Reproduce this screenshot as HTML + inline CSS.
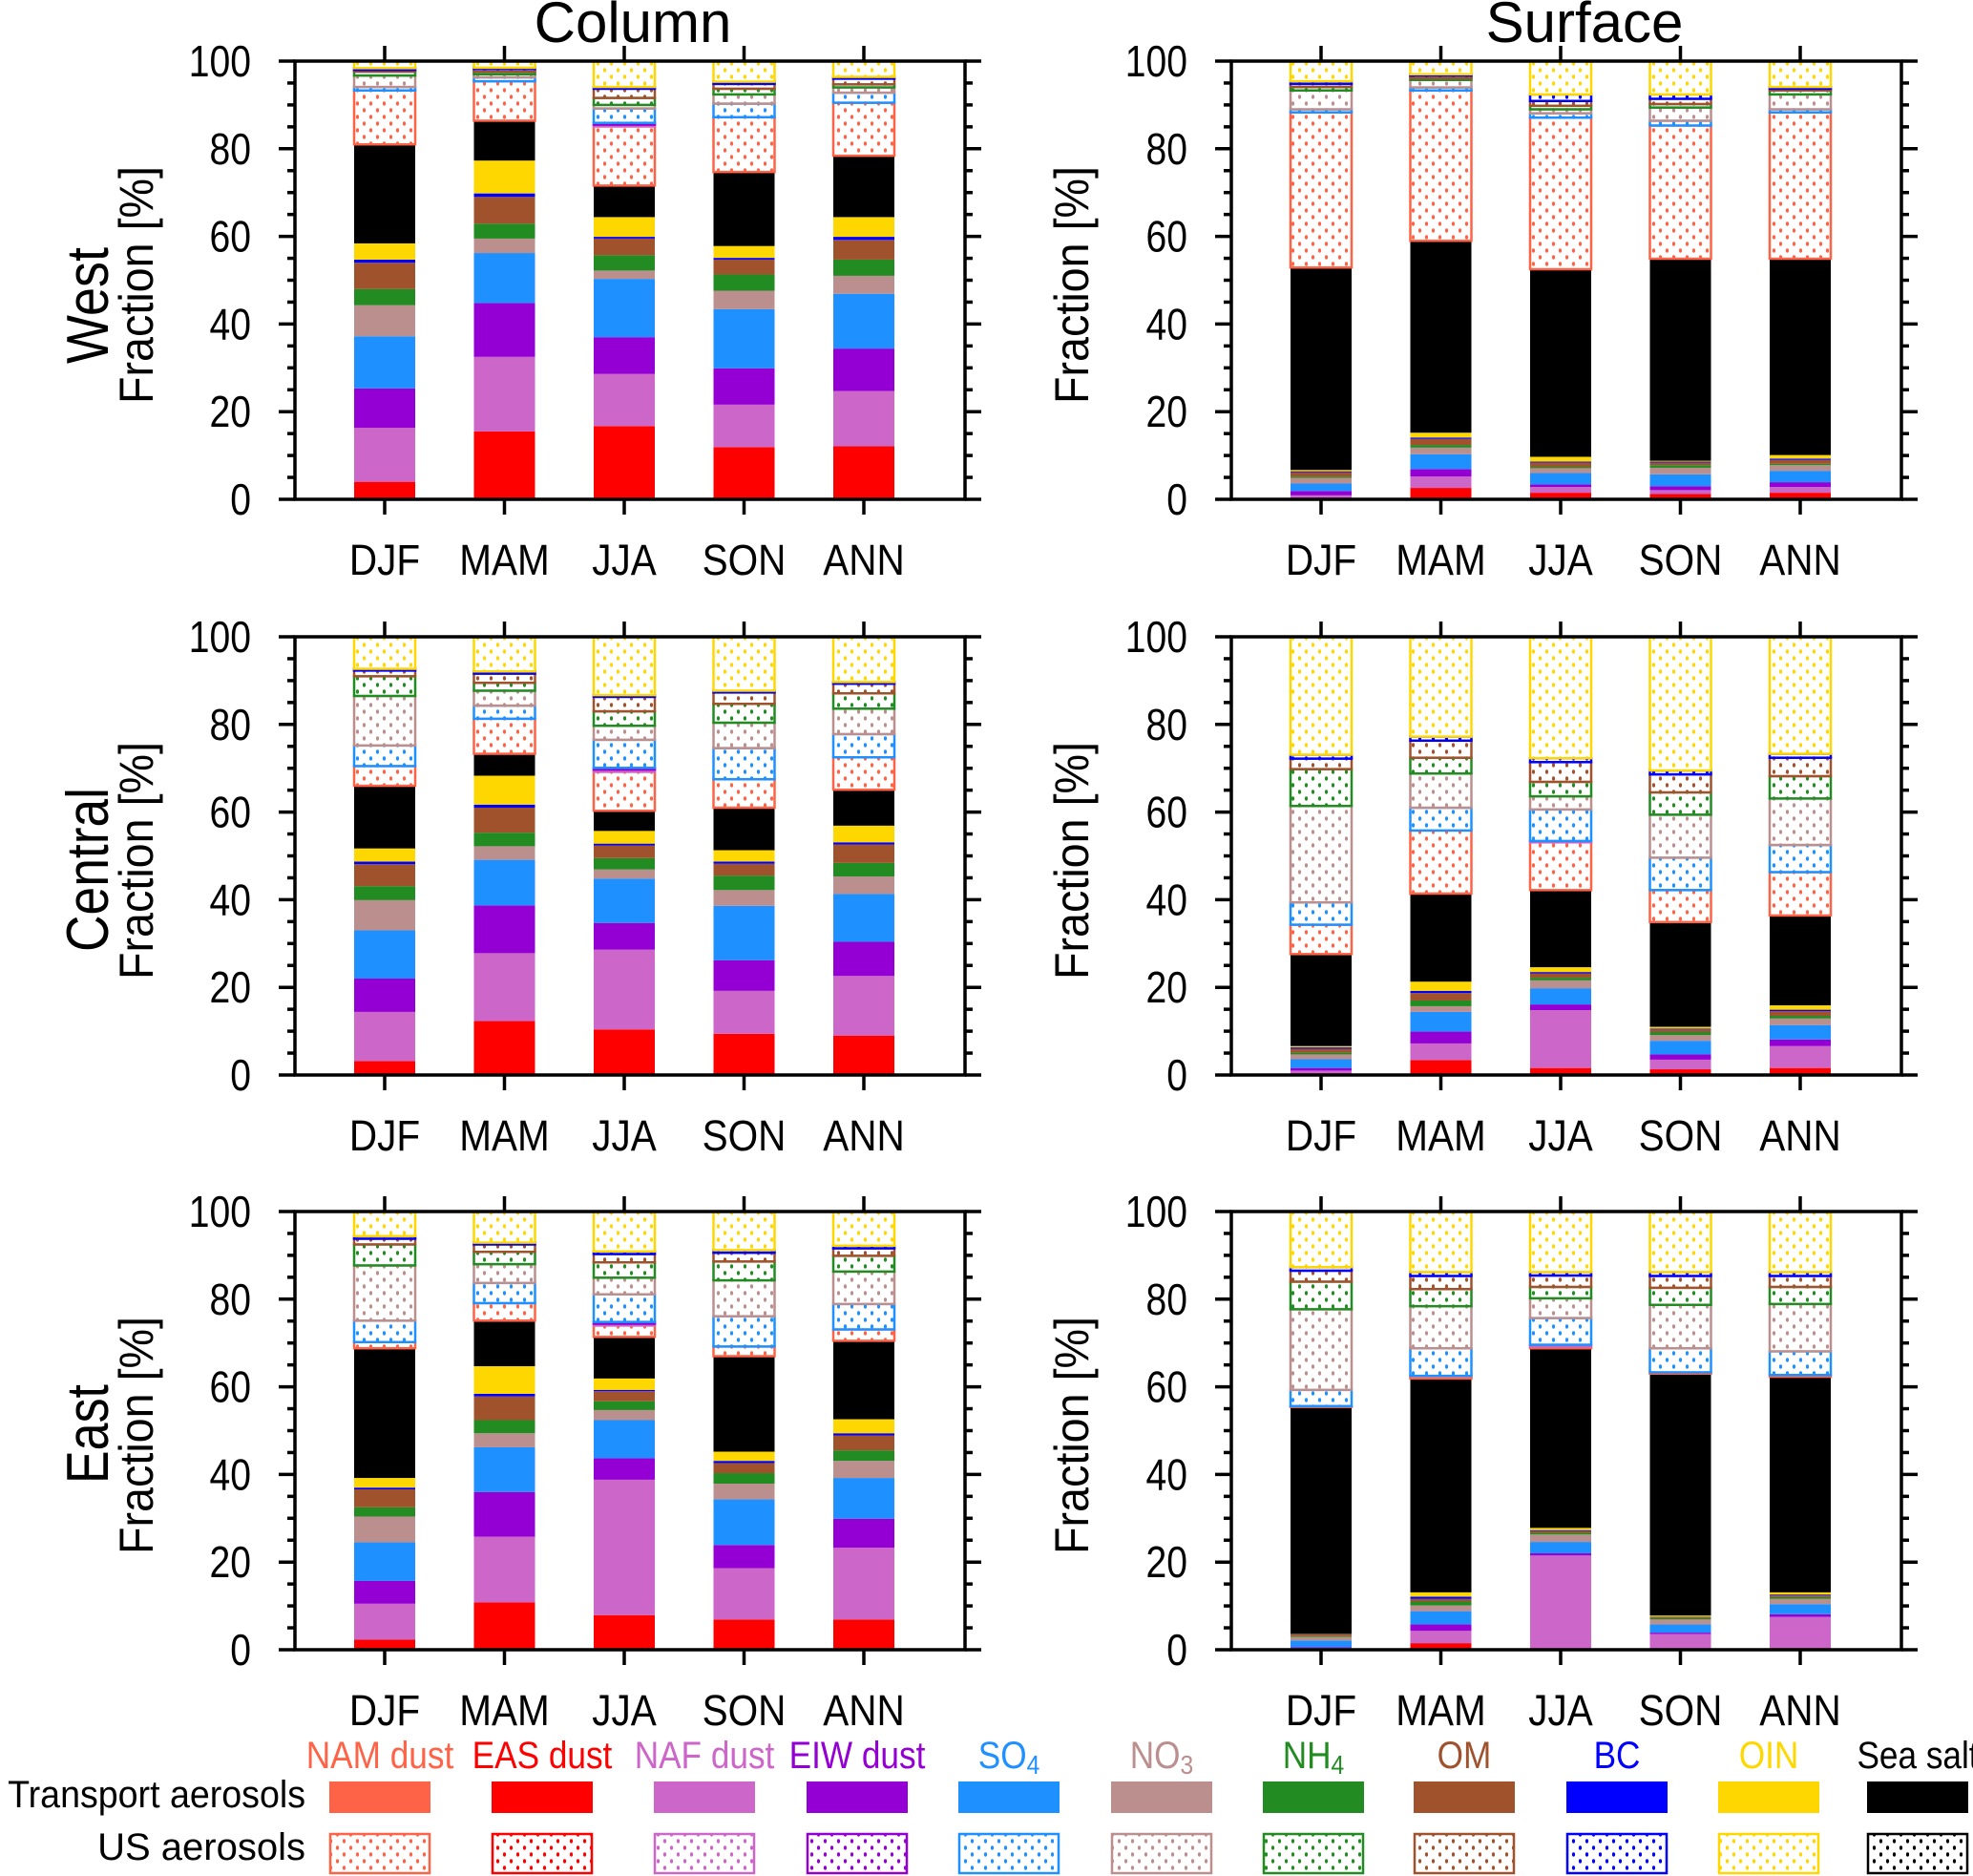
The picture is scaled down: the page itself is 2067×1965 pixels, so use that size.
<!DOCTYPE html>
<html><head><meta charset="utf-8"><style>
html,body{margin:0;padding:0;background:#fff;}
svg{display:block;font-family:"Liberation Sans",Arial,sans-serif;}
</style></head><body>
<svg id="chart" width="2067" height="1965" viewBox="0 0 2067 1965" xmlns="http://www.w3.org/2000/svg">
<defs id="defs"></defs>
<g id="plots"></g>
<g id="legend"></g>
</svg>
<script>
// ---- data ----
const categories = ["DJF","MAM","JJA","SON","ANN"];
const componentNames = ["NAM dust","EAS dust","NAF dust","EIW dust","SO4","NO3","NH4","OM","BC","OIN","Sea salt"];
const componentColors = ["#ff6347","#ff0000","#cc66c8","#9400d3","#1e90ff","#bc8f8f","#228b22","#a0522d","#0000ff","#ffd700","#000000"];
const yTicks = [0,20,40,60,80,100];
const rowLabels = ["West","Central","East"];
const colTitles = ["Column","Surface"];
// cumulative stack tops (%), order: 11 transport comps then 11 US comps
const westColumn = [
 [0,4,16.3,25.3,37.2,44.3,48,54,54.7,58.4,81, 93.3,93.3,93.3,93.3,94.1,96.7,97.6,98,98.4,100,100],
 [0,15.5,32.5,44.8,56.2,59.5,62.9,69,69.8,77.3,86.4, 95.4,95.4,95.4,95.4,96.3,97,97.6,98.2,98.5,100,100],
 [0,16.7,28.6,37,50.3,52.2,55.7,59.5,59.9,64.4,71.6, 85.1,85.1,85.5,85.9,89.2,90,91.6,93.7,94.1,100,100],
 [0,11.9,21.6,29.9,43.4,47.6,51.3,54.7,55.1,57.8,74.7, 87.2,87.2,87.2,87.2,90.3,92.4,93.7,94.8,95.3,100,100],
 [0,12.1,24.7,34.4,46.9,51,54.7,59.2,59.9,64.4,78.4, 90.5,90.5,90.5,90.5,92.8,94,94.7,96,96.4,100,100]];
const westSurface = [
 [0,0.3,0.9,1.9,3.6,4.9,5.2,6.2,6.4,6.7,52.9, 88.3,88.3,88.3,88.3,89,93.3,94.1,94.8,95.4,100,100],
 [0,2.6,5.2,6.9,10.3,11.8,12.4,13.8,14.1,15.2,59, 93.3,93.3,93.3,93.3,94,95.7,96.1,96.7,97,100,100],
 [0,1.5,2.8,3.4,6,7.1,7.4,8.4,8.6,9.7,52.5, 87.1,87.1,87.1,87.1,88.1,89,89.8,90.9,92.4,100,100],
 [0,1.2,2.1,3,5.7,7.2,7.8,8.4,8.6,8.8,54.9, 85.3,85.3,85.3,85.3,86.4,89.4,90.2,91.4,92.4,100,100],
 [0,1.5,2.8,3.9,6.5,7.8,8.1,9,9.3,10.1,54.9, 88.3,88.3,88.3,88.3,89,92.4,93.3,93.7,94.1,100,100]];
const centralColumn = [
 [0,3.2,14.4,22,33,39.9,43.1,48.1,48.7,51.7,66, 70.5,70.5,70.5,70.5,75.2,86.5,91,92.3,92.7,100,100],
 [0,12.3,27.8,38.7,49.1,52.2,55.3,61,61.7,68.3,73.3, 81.3,81.3,81.3,81.3,84.3,87.7,89.5,91.6,92.1,100,100],
 [0,10.4,28.6,34.7,44.8,46.9,49.5,52.4,52.8,55.7,60.3, 69.2,69.2,69.7,70.1,76.5,79.7,83,86.3,86.7,100,100],
 [0,9.4,19.2,26.2,38.6,42.2,45.5,48.2,48.7,51.3,61, 67.5,67.5,67.5,67.5,74.6,80.4,84.7,87.3,87.7,100,100],
 [0,9,22.6,30.4,41.3,45.3,48.4,52.6,53.1,56.9,65.1, 72.5,72.5,72.5,72.5,77.8,83.6,87.1,89.3,89.7,100,100]];
const centralSurface = [
 [0,0.2,1,1.6,3.6,4.7,5.1,6,6.3,6.6,27.6, 34.3,34.3,34.3,34.3,39.4,61.4,69.8,72.2,73.1,100,100],
 [0,3.4,7.2,9.9,14.4,15.7,17,18.7,19.2,21.3,41.4, 55.8,55.8,55.8,55.8,61,68.8,72.4,76.3,77.2,100,100],
 [0,1.6,14.8,16.1,19.8,21.6,22.2,23.2,23.5,24.6,42.2, 53.1,53.1,53.4,53.4,60.6,63.6,66.9,71.4,72.3,100,100],
 [0,1.3,3.5,4.7,7.8,9.1,9.8,10.4,10.6,11,34.9, 42.2,42.2,42.2,42.2,49.6,59.4,64.5,68.6,69.5,100,100],
 [0,1.6,6.6,8.1,11.4,12.9,13.5,14.6,14.9,15.9,36.4, 46.3,46.3,46.3,46.3,52.5,63.1,68.2,72.4,73.3,100,100]];
const eastColumn = [
 [0,2.3,10.5,15.7,24.5,30.4,32.5,36.6,37,39.2,68.8, 70.2,70.2,70.2,70.2,75.1,87.7,92.5,93.8,94.4,100,100],
 [0,10.8,25.8,36,46.2,49.4,52.4,57.8,58.4,64.7,75.1, 79.1,79.1,79.1,79.1,83.7,88,90.8,92.5,92.9,100,100],
 [0,7.9,38.8,43.7,52.4,54.7,56.7,59,59.3,61.9,71.4, 74,74,74.4,74.8,81.1,84.9,88.4,90.3,90.9,100,100],
 [0,6.9,18.6,23.9,34.3,37.9,40.3,42.6,43.1,45.2,67, 69.2,69.2,69.2,69.2,76.1,84.3,88.6,90.6,91.2,100,100],
 [0,6.9,23.3,29.9,39.2,43.1,45.5,48.9,49.4,52.6,70.5, 73.1,73.1,73.1,73.1,78.9,86.3,89.9,91.6,92.2,100,100]];
const eastSurface = [
 [0,0.2,0.4,0.6,2.1,2.9,3.1,3.5,3.55,3.6,55.4, 55.6,55.6,55.6,55.6,59.3,77.7,84,86.5,87.3,100,100],
 [0,1.5,4.3,5.8,8.8,10.1,11,11.6,12.1,13.1,61.9, 62.5,62.5,62.5,62.5,68.8,78.4,82.3,85.3,86.2,100,100],
 [0,0.3,21.5,22,24.6,26.3,26.7,27.1,27.3,27.8,68.8, 69.2,69.2,69.6,69.6,75.7,80.2,82.8,85.4,86.2,100,100],
 [0,0.2,3.6,3.9,5.8,6.9,7.2,7.4,7.5,7.8,63, 63.3,63.3,63.3,63.3,68.8,78.7,82.6,85.3,86.2,100,100],
 [0,0.4,7.5,8.1,10.4,11.6,12,12.4,12.6,13.1,62.3, 62.7,62.7,62.7,62.7,68.1,78.9,82.8,85.3,86.2,100,100]];

const NS="http://www.w3.org/2000/svg";
function mk(tag, attrs, parent){const e=document.createElementNS(NS,tag);for(const k in attrs)e.setAttribute(k,attrs[k]);if(parent)parent.appendChild(e);return e;}
const defs=document.getElementById('defs');
componentColors.forEach((c,i)=>{
  const p=mk('pattern',{id:'dot'+i,width:14,height:14,patternUnits:'userSpaceOnUse'},defs);
  mk('rect',{x:0,y:0,width:14,height:14,fill:'#fff'},p);
  mk('ellipse',{cx:3.5,cy:3.5,rx:1.6,ry:2.2,fill:c},p);
  mk('ellipse',{cx:10.5,cy:10.5,rx:1.6,ry:2.2,fill:c},p);
});

const panels=[
 {data:westColumn,col:0,row:0,name:'west-column'},{data:westSurface,col:1,row:0,name:'west-surface'},
 {data:centralColumn,col:0,row:1,name:'central-column'},{data:centralSurface,col:1,row:1,name:'central-surface'},
 {data:eastColumn,col:0,row:2,name:'east-column'},{data:eastSurface,col:1,row:2,name:'east-surface'}];
const colX0=[309,1290], plotW=702, rowY0=[64,667,1269], plotH=459;
const plots=document.getElementById('plots');

panels.forEach(p=>{
  const x0=colX0[p.col], y0=rowY0[p.row];
  const yS=v=>y0+plotH*(1-v/100);
  const xS=i=>x0+94+i*125.5;
  const g=mk('g',{},plots);
  
  
  p.data.forEach((cum,i)=>{
    const bg=mk('g',{},g);
    
    
    for(let k=0;k<cum.length;k++){
      const lo=k===0?0:cum[k-1], hi=cum[k];
      if(hi-lo<=0) continue;
      const ci=k%11, us=k>=11;
      const r=mk('rect',{x:xS(i)-32,y:yS(hi),width:64,height:yS(lo)-yS(hi)},bg);
      if(us){r.setAttribute('fill','url(#dot'+ci+')');r.setAttribute('stroke',componentColors[ci]);r.setAttribute('stroke-width',2.5);}
      else r.setAttribute('fill',componentColors[ci]);
      
      
    }
  });
  const ax=mk('g',{stroke:'#000','stroke-width':3.5,fill:'none'},g);
  
  
  mk('rect',{x:x0,y:y0,width:plotW,height:plotH},ax);
  for(let v=0;v<=100;v+=5){
    const major=v%20===0, L=major?17:8;
    mk('line',{x1:x0-L,y1:yS(v),x2:x0,y2:yS(v)},ax);
    mk('line',{x1:x0+plotW,y1:yS(v),x2:x0+plotW+L,y2:yS(v)},ax);
  }
  categories.forEach((c,i)=>{
    mk('line',{x1:xS(i),y1:y0,x2:xS(i),y2:y0-16},ax);
    mk('line',{x1:xS(i),y1:y0+plotH,x2:xS(i),y2:y0+plotH+16},ax);
    const t=mk('text',{transform:`translate(${xS(i)},${y0+plotH+79}) scale(0.9,1)`,'text-anchor':'middle','font-size':45,fill:'#000'},g);
    t.textContent=c;
    
    
  });
  yTicks.forEach(v=>{
    const t=mk('text',{transform:`translate(${x0-46},${yS(v)+16}) scale(0.85,1)`,'text-anchor':'end','font-size':46,fill:'#000'},g);
    t.textContent=v;
    
    
  });
  const yc=y0+plotH/2+5;
  const fx=p.col===0?160:1140;
  const ft=mk('text',{transform:`translate(${fx},${yc}) rotate(-90)`,'text-anchor':'middle','font-size':50,textLength:249,lengthAdjust:'spacingAndGlyphs',fill:'#000'},g);
  ft.textContent='Fraction [%]';
  
  
  if(p.col===0){
    const lens=[122,172,104], cy=[320,911,1502];
    const rt=mk('text',{transform:`translate(113,${cy[p.row]}) rotate(-90)`,'text-anchor':'middle','font-size':62,textLength:lens[p.row],lengthAdjust:'spacingAndGlyphs',fill:'#000'},g);
    rt.textContent=rowLabels[p.row];
    
    
  }
  if(p.row===0){
    const tt=mk('text',{x:p.col===0?663:1660,y:44,'text-anchor':'middle','font-size':60,fill:'#000'},g);
    tt.textContent=colTitles[p.col];
    
    
  }
});

const leg=document.getElementById('legend');
const legX=[345,515,685,845,1004,1164,1323,1481,1641,1800,1956];
const subs={4:['SO','4'],5:['NO','3'],6:['NH','4']};
componentNames.forEach((n,i)=>{
  const cx=legX[i]+53;
  const t=mk('text',{transform:`translate(${cx},1852) scale(0.88,1)`,'text-anchor':'middle','font-size':40,fill:componentColors[i]},leg);
  if(subs[i]){t.textContent=subs[i][0];const s=mk('tspan',{'font-size':28,dy:6},t);s.textContent=subs[i][1];}
  else t.textContent=n;
  
  
  const r1=mk('rect',{x:legX[i],y:1866,width:106,height:33,fill:componentColors[i]},leg);
  
  
  const r2=mk('rect',{x:legX[i]+1,y:1921,width:104,height:41,fill:'url(#dot'+i+')',stroke:componentColors[i],'stroke-width':2.5},leg);
  
  
});
const lt1=mk('text',{transform:'translate(320,1893) scale(0.94,1)','text-anchor':'end','font-size':40,fill:'#000'},leg);
lt1.textContent='Transport aerosols';


const lt2=mk('text',{transform:'translate(320,1948)','text-anchor':'end','font-size':40,fill:'#000'},leg);
lt2.textContent='US aerosols';


</script>
</body></html>
